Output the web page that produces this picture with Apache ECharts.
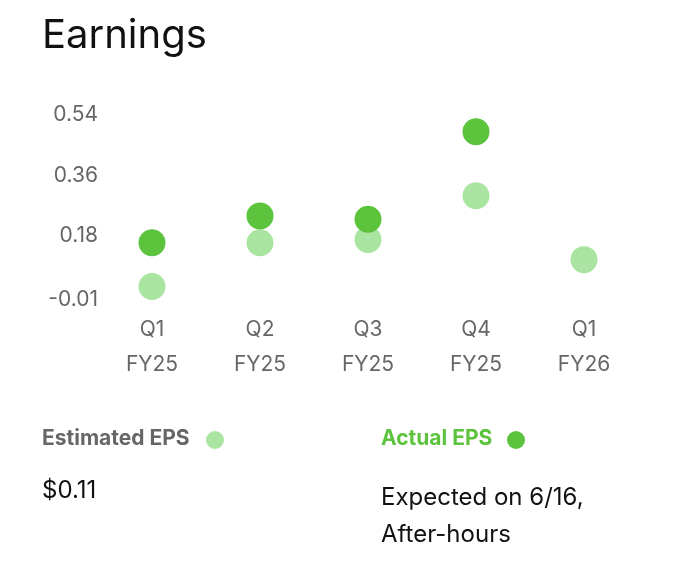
<!DOCTYPE html>
<html><head><meta charset="utf-8">
<script src="https://cdn.jsdelivr.net/npm/echarts@6/dist/echarts.min.js"></script>
<style>html,body{margin:0;padding:0;background:#fff}#c{width:680px;height:564px}</style>
</head><body><div id="c"></div>
<script>
const categories = ['Q1\nFY25','Q2\nFY25','Q3\nFY25','Q4\nFY25','Q1\nFY26'];
const estimated = [0.03, 0.16, 0.17, 0.30, 0.11];
const actual = [0.16, 0.24, 0.23, 0.49, null];
const yTicks = [-0.01, 0.18, 0.36, 0.54];
const estColor = '#a9e5a0', actColor = '#5cc33c';
const chart = echarts.init(document.getElementById('c'));
chart.setOption({
  animation:false,
  grid:{left:98,right:42,top:115,bottom:264,containLabel:false},
  xAxis:{type:'category',data:categories,axisLine:{show:false},axisTick:{show:false},
    axisLabel:{color:'#666',fontSize:21,lineHeight:35,margin:12,fontFamily:'Inter'}},
  yAxis:{type:'value',min:-0.01,max:0.54,splitLine:{show:false},axisLine:{show:false},axisTick:{show:false},
    axisLabel:{customValues:yTicks,color:'#666',fontSize:21,margin:0,fontFamily:'Inter',
      formatter:v=>v.toFixed(2)}},
  series:[
    {type:'scatter',data:estimated,symbolSize:27,itemStyle:{color:estColor,opacity:1}},
    {type:'scatter',data:actual,symbolSize:27,itemStyle:{color:actColor,opacity:1}}
  ],
  graphic:[
    {type:'text',left:42,top:16,style:{text:'Earnings',fontSize:40,fill:'#111',fontFamily:'Inter'}},
    {type:'text',left:42,top:428,style:{text:'Estimated EPS',fontSize:21,fontWeight:'bold',fill:'#666',fontFamily:'Inter'}},
    {type:'circle',shape:{cx:215,cy:440,r:9},style:{fill:estColor}},
    {type:'text',left:381,top:428,style:{text:'Actual EPS',fontSize:21,fontWeight:'bold',fill:actColor,fontFamily:'Inter'}},
    {type:'circle',shape:{cx:516,cy:440,r:9},style:{fill:actColor}},
    {type:'text',left:42,top:479,style:{text:'$0.11',fontSize:24,fill:'#111',fontFamily:'Inter'}},
    {type:'text',left:381,top:479,style:{text:'Expected on 6/16,\nAfter-hours',fontSize:24,lineHeight:37,fill:'#111',fontFamily:'Inter'}}
  ]
});
</script></body></html>
